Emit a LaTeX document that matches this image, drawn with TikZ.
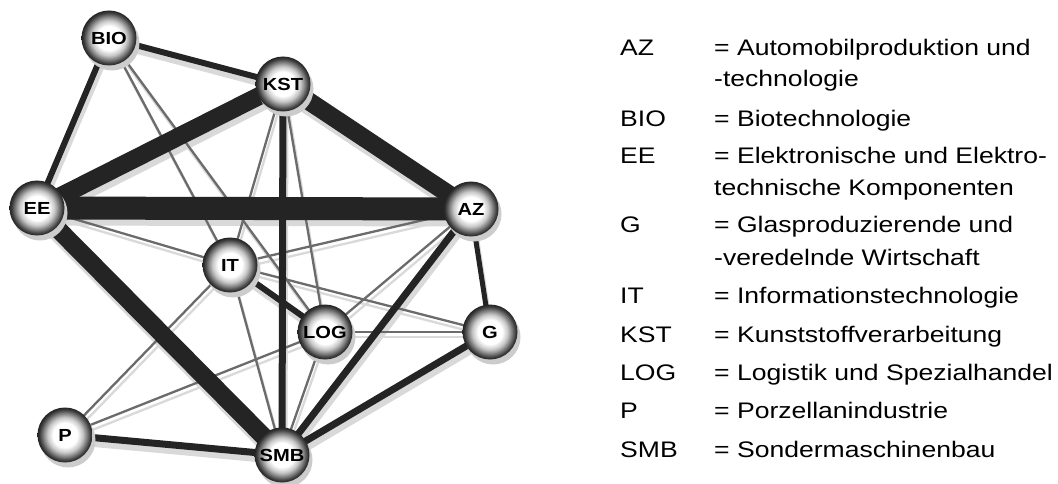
\documentclass[tikz,border=0pt]{standalone}
\usepackage{fontspec}
\setmainfont{Liberation Sans}
\newfontfamily\legendfam[FakeStretch=1.18]{Liberation Sans}
\newfontfamily\nodefam[FakeStretch=1.15]{Liberation Sans}
\usetikzlibrary{shadows}
\pgfdeclarelayer{back}
\pgfdeclarelayer{shad}
\pgfdeclarelayer{edges}
\pgfsetlayers{back,shad,edges,main}
\pgfdeclareradialshading{sphereshade}{\pgfpoint{0bp}{0bp}}{color(0bp)=(white); color(11bp)=(white); color(16bp)=(black!22); color(20bp)=(black!52); color(23bp)=(black!76); color(25bp)=(black!86); color(50bp)=(black!86)}
\begin{document}
\begin{tikzpicture}[x=1pt,y=-1pt,
  sph/.style={circle, minimum size=55pt, inner sep=0pt, shade, shading=sphereshade,
    font=\nodefam\bfseries\fontsize{17.5}{20}\selectfont, text=black,
    drop shadow={shadow xshift=3pt, shadow yshift=-5pt, fill=black!20, opacity=1}},
  weak/.style={draw=black!58, line width=2.3pt},
  strong/.style={draw=black!86, line width=#1},
  shadline/.style={draw=black!15, line width=#1},
  lab/.style={anchor=base west, inner sep=0pt, font=\legendfam\fontsize{22.5}{27}\selectfont}
]
\begin{pgfonlayer}{back}
  \fill[white] (0,0) rectangle (1058,484);
\end{pgfonlayer}
\useasboundingbox (0,0) rectangle (1058,484);

% nodes
\node[sph] (BIO) at (109,38)  {BIO};
\node[sph] (KST) at (283,84)  {KST};
\node[sph] (EE)  at (37,208)  {EE};
\node[sph] (AZ)  at (471,209) {AZ};
\node[sph] (IT)  at (230,265) {IT};
\node[sph] (LOG) at (325,332) {LOG};
\node[sph] (G)   at (490,332) {G};
\node[sph] (P)   at (65,435)  {P};
\node[sph] (SMB) at (282,455) {SMB};

% edges
\begin{pgfonlayer}{shad}
  \foreach \a/\b in {BIO/IT, BIO/LOG, KST/IT, KST/LOG, EE/IT, IT/AZ, IT/G, IT/SMB, IT/P, LOG/AZ, LOG/G, LOG/P, LOG/SMB}
    \draw[shadline=2.3pt] ([shift={(2,5)}]\a.center) -- ([shift={(2,5)}]\b.center);
  \foreach \a/\b/\w in {EE/AZ/23pt, EE/KST/18pt, KST/AZ/18pt, EE/SMB/18pt, KST/SMB/7pt, AZ/SMB/7pt, G/SMB/7pt, P/SMB/7pt, BIO/KST/6pt, BIO/EE/6pt, AZ/G/5pt, IT/LOG/6pt}
    \draw[shadline=\w] ([shift={(2,6)}]\a.center) -- ([shift={(2,6)}]\b.center);
\end{pgfonlayer}
\begin{pgfonlayer}{edges}
  \foreach \a/\b in {BIO/IT, BIO/LOG, KST/IT, KST/LOG, EE/IT, IT/AZ, IT/G, IT/SMB, IT/P, LOG/AZ, LOG/G, LOG/P, LOG/SMB}
    \draw[weak] (\a.center) -- (\b.center);
  \foreach \a/\b/\w in {EE/AZ/23pt, EE/KST/18pt, KST/AZ/18pt, EE/SMB/18pt, KST/SMB/7pt, AZ/SMB/7pt, G/SMB/7pt, P/SMB/7pt, BIO/KST/6pt, BIO/EE/6pt, AZ/G/5pt, IT/LOG/6pt}
    \draw[strong=\w] (\a.center) -- (\b.center);
\end{pgfonlayer}

% legend
\node[lab] (kAZ)  at (620,56)  {AZ};
\node[lab] (dAZ)  at (714,56)  {= Automobilproduktion und};
\node[lab] (dAZb) at (714,87)  {-technologie};
\node[lab] (kBIO) at (620,127) {BIO};
\node[lab] (dBIO) at (714,127) {= Biotechnologie};
\node[lab] (kEE)  at (620,164) {EE};
\node[lab] (dEE)  at (714,164) {= Elektronische und Elektro-};
\node[lab] (dEEb) at (714,195) {technische Komponenten};
\node[lab] (kG)   at (620,233) {G};
\node[lab] (dG)   at (714,233) {= Glasproduzierende und};
\node[lab] (dGb)  at (714,265) {-veredelnde Wirtschaft};
\node[lab] (kIT)  at (620,303) {IT};
\node[lab] (dIT)  at (714,303) {= Informationstechnologie};
\node[lab] (kKST) at (620,342) {KST};
\node[lab] (dKST) at (714,342) {= Kunststoffverarbeitung};
\node[lab] (kLOG) at (620,380) {LOG};
\node[lab] (dLOG) at (714,380) {= Logistik und Spezialhandel};
\node[lab] (kP)   at (620,418) {P};
\node[lab] (dP)   at (714,418) {= Porzellanindustrie};
\node[lab] (kSMB) at (620,457) {SMB};
\node[lab] (dSMB) at (714,457) {= Sondermaschinenbau};
\end{tikzpicture}
\end{document}
